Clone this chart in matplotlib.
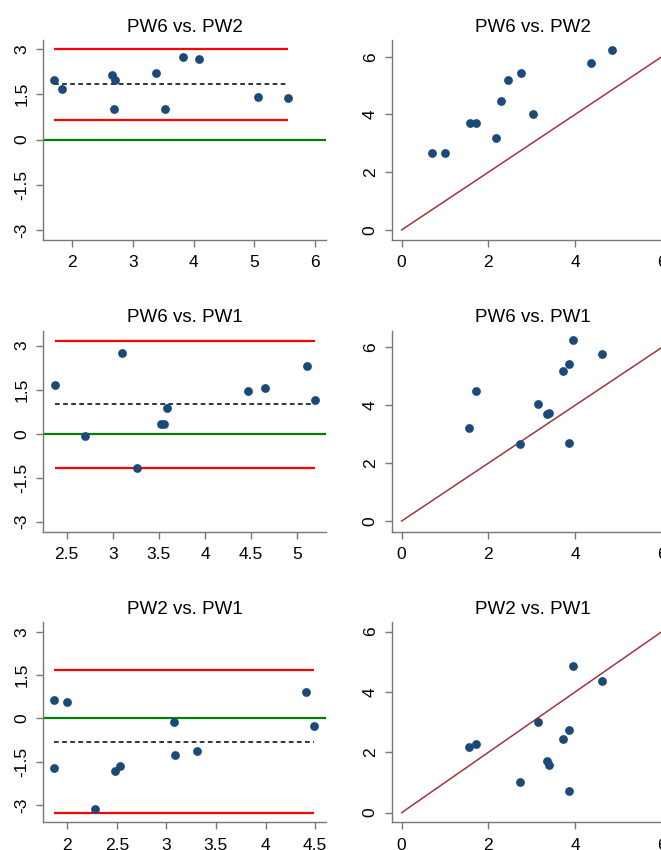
import numpy as np
import matplotlib
matplotlib.use('Agg')
from matplotlib import pyplot as plt

plt.rcParams['font.family'] = ['Liberation Sans', 'DejaVu Sans']

# Pulse wave readings per subject
pw1 = [3.85, 2.73, 3.40, 3.36, 1.55, 1.72, 3.73, 3.87, 3.14, 4.62, 3.95]
pw2 = [0.71, 1.00, 1.57, 1.71, 2.18, 2.28, 2.45, 2.75, 3.02, 4.36, 4.86]
pw6 = [2.68, 2.66, 3.72, 3.69, 3.20, 4.48, 5.19, 5.43, 4.03, 5.77, 6.25]

titles = ['PW6 vs. PW2', 'PW6 vs. PW1', 'PW2 vs. PW1']
pairs = [(pw6, pw2), (pw6, pw1), (pw2, pw1)]

# Bland-Altman reference lines: mean difference and limits of agreement
bias = [1.83, 1.00, -0.83]
loa_upper = [3.01, 3.17, 1.66]
loa_lower = [0.66, -1.17, -3.28]

ba_xticks = [[2, 3, 4, 5, 6], [2.5, 3, 3.5, 4, 4.5, 5], [2, 2.5, 3, 3.5, 4, 4.5]]
ba_yticks = [-3, -1.5, 0, 1.5, 3]
sc_ticks = [0, 2, 4, 6]

# axis ranges and panel placement (pixels measured on a 661x850 canvas)
ba_xlim = [(1.52, 6.18), (2.247, 5.31), (1.758, 4.61)]
ba_ylim = [(-3.33, 3.30), (-3.34, 3.51), (-3.60, 3.33)]
sc_xlim = (-0.23, 6.29)
sc_ylim = [(-0.35, 6.58), (-0.37, 6.58), (-0.32, 6.31)]
row_top = [40, 330.7, 622.3]
row_h = [200, 201, 200]

W, H = 661, 850
dot = '#1B4A78'
axcol = '#777777'

fig = plt.figure(figsize=(W / 100, H / 100), dpi=100)


def style(ax):
    for s in ['top', 'right']:
        ax.spines[s].set_visible(False)
    for s in ['left', 'bottom']:
        ax.spines[s].set_color(axcol)
        ax.spines[s].set_linewidth(1.0)
    ax.tick_params(color=axcol, length=5, width=1.0, labelsize=12.5)
    ax.tick_params(axis='x', pad=6)
    ax.tick_params(axis='y', pad=5)
    for lbl in ax.get_yticklabels():
        lbl.set_rotation(90)
        lbl.set_va('center')


for i in range(3):
    a = np.array(pairs[i][0])
    b = np.array(pairs[i][1])
    mean = (a + b) / 2
    diff = a - b
    bottom = 1 - (row_top[i] + row_h[i]) / H
    height = row_h[i] / H

    # left: Bland-Altman
    ax = fig.add_axes([43.3 / W, bottom, 282.7 / W, height])
    ax.axhline(0, color='#008000', lw=1.6)
    ax.hlines([loa_upper[i], loa_lower[i]], mean.min(), mean.max(), colors='red', lw=1.6)
    ax.hlines(bias[i], mean.min(), mean.max(), colors='black', lw=1.1,
              linestyles=(0, (3.1, 2.2)))
    ax.scatter(mean, diff, s=40, color=dot, linewidths=0, zorder=3)
    ax.set_xlim(ba_xlim[i])
    ax.set_ylim(ba_ylim[i])
    ax.set_xticks(ba_xticks[i])
    ax.set_xticklabels(['%g' % t for t in ba_xticks[i]])
    ax.set_yticks(ba_yticks)
    ax.set_yticklabels(['%g' % t for t in ba_yticks])
    ax.set_title(titles[i], fontsize=13.5)
    style(ax)

    # right: raw readings against the line of identity
    ax = fig.add_axes([391.7 / W, bottom, 282.7 / W, height])
    ax.plot([0, 7], [0, 7], color='#A3333D', lw=1.1)
    ax.scatter(b, a, s=40, color=dot, linewidths=0, zorder=3)
    ax.set_xlim(sc_xlim)
    ax.set_ylim(sc_ylim[i])
    ax.set_xticks(sc_ticks)
    ax.set_xticklabels(['%g' % t for t in sc_ticks])
    ax.set_yticks(sc_ticks)
    ax.set_yticklabels(['%g' % t for t in sc_ticks])
    ax.set_title(titles[i], fontsize=13.5)
    style(ax)

fig.savefig('out.png', dpi=100)
